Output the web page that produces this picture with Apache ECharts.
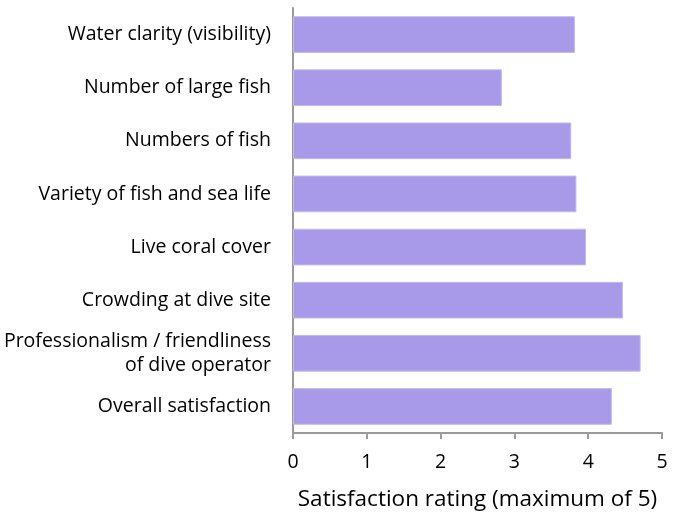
<!DOCTYPE html>
<html>
<head>
<meta charset="utf-8">
<script src="https://cdn.jsdelivr.net/npm/echarts@6/dist/echarts.min.js"></script>
<style>
  html, body { margin: 0; padding: 0; background: #ffffff; }
  #chart { width: 683px; height: 512px; }
</style>
</head>
<body>
<div id="chart"></div>
<script>
// Dive survey: satisfaction ratings by attribute (top to bottom)
const categories = [
  'Water clarity (visibility)',
  'Number of large fish',
  'Numbers of fish',
  'Variety of fish and sea life',
  'Live coral cover',
  'Crowding at dive site',
  'Professionalism / friendliness\nof dive operator',
  'Overall satisfaction'
];
const ratings = [3.82, 2.83, 3.77, 3.84, 3.97, 4.47, 4.71, 4.32];
const xTicks = [0, 1, 2, 3, 4, 5];
const xAxisTitle = 'Satisfaction rating (maximum of 5)';

const chart = echarts.init(document.getElementById('chart'), null, { renderer: 'canvas' });
const fontFamily = '"Open Sans", "Noto Sans", sans-serif';

chart.setOption({
  animation: false,
  backgroundColor: '#ffffff',
  grid: {
    left: 293, right: 21, top: 8, bottom: 79,
    containLabel: false, outerBoundsMode: 'none'
  },
  xAxis: {
    type: 'value',
    min: xTicks[0],
    max: xTicks[xTicks.length - 1],
    interval: 1,
    name: xAxisTitle,
    nameLocation: 'middle',
    nameGap: 55,
    nameTextStyle: { fontFamily, fontSize: 22.5, color: '#000000' },
    axisLine: { show: true, lineStyle: { color: '#9a9a9a', width: 2 } },
    axisTick: { show: true, length: 6, lineStyle: { color: '#9a9a9a', width: 2 } },
    axisLabel: { fontFamily, fontSize: 19.5, color: '#000000', margin: 19 },
    splitLine: { show: false }
  },
  yAxis: {
    type: 'category',
    data: categories,
    inverse: true,
    axisLine: { show: true, lineStyle: { color: '#9a9a9a', width: 2 } },
    axisTick: { show: false },
    axisLabel: {
      fontFamily, fontSize: 19.5, color: '#000000', margin: 22,
      align: 'right', lineHeight: 24
    }
  },
  series: [{
    type: 'bar',
    data: ratings,
    barCategoryGap: '31%',
    itemStyle: { color: '#a899e9', borderColor: '#c2b8f0', borderWidth: 1 }
  }]
});
</script>
</body>
</html>
